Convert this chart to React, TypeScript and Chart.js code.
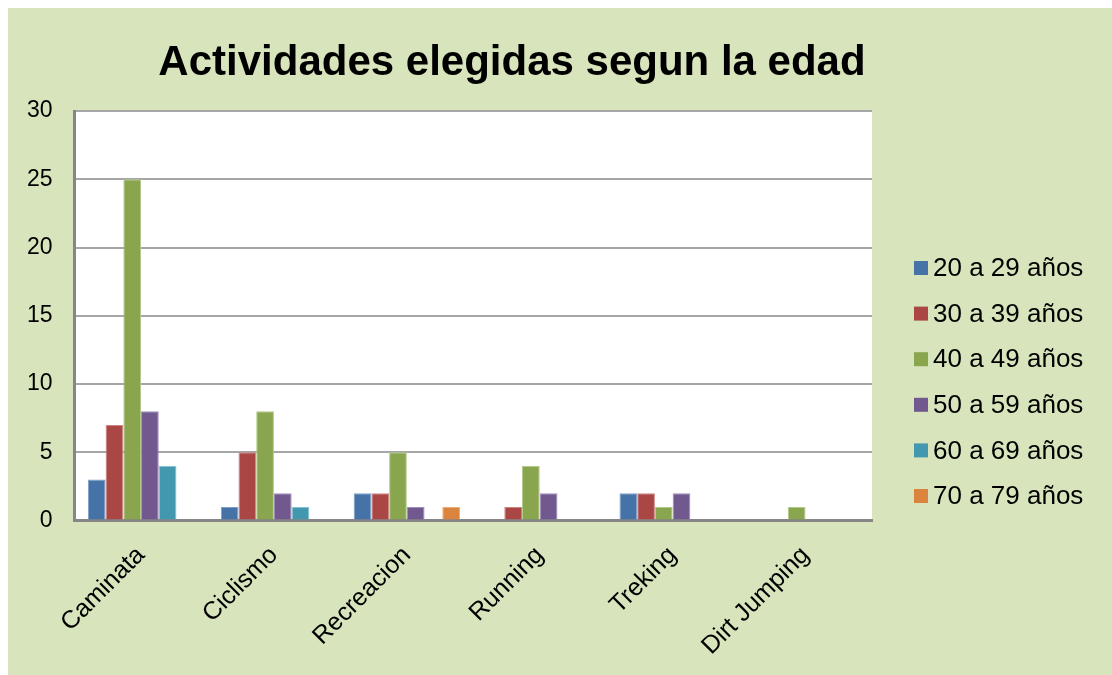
import React, { useEffect, useRef } from 'react';
import { Chart, registerables } from 'chart.js';

Chart.register(...registerables);

const categories = ['Caminata', 'Ciclismo', 'Recreacion', 'Running', 'Treking', 'Dirt Jumping'];
const seriesNames = ['20 a 29 años', '30 a 39 años', '40 a 49 años', '50 a 59 años', '60 a 69 años', '70 a 79 años'];
const s20a29 = [3, 1, 2, 0, 2, 0];
const s30a39 = [7, 5, 2, 1, 2, 0];
const s40a49 = [25, 8, 5, 4, 1, 1];
const s50a59 = [8, 2, 1, 2, 2, 0];
const s60a69 = [4, 1, 0, 0, 0, 0];
const s70a79 = [0, 0, 1, 0, 0, 0];
const seriesValues = [s20a29, s30a39, s40a49, s50a59, s60a69, s70a79];
const seriesColors = ['#4572a7', '#aa4643', '#89a54e', '#71588f', '#4198af', '#db843d'];
const seriesBorders = ['#7d9ec9', '#cc8583', '#b1c98a', '#a08cb8', '#86c2d2', '#eaae7e'];
const yMin = 0;
const yMax = 30;
const yStep = 5;
const titleText = 'Actividades elegidas segun la edad';

const FONT = '"Liberation Sans", Arial, sans-serif';

const bgPlugin = {
  id: 'bgPlugin',
  beforeDraw(chart: any) {
    const { ctx, chartArea } = chart;
    ctx.save();
    ctx.fillStyle = '#ffffff';
    ctx.fillRect(chartArea.left, chartArea.top, chartArea.right - chartArea.left, chartArea.bottom - chartArea.top);
    ctx.restore();
  },
};

const titlePlugin = {
  id: 'titlePlugin',
  afterDraw(chart: any) {
    const { ctx } = chart;
    ctx.save();
    ctx.font = 'bold 42px ' + FONT;
    ctx.fillStyle = '#000';
    ctx.textAlign = 'center';
    ctx.textBaseline = 'alphabetic';
    ctx.fillText(titleText, 504, 67);
    ctx.restore();
  },
};

const legendPlugin = {
  id: 'customLegend',
  afterDraw(chart: any) {
    const { ctx } = chart;
    ctx.save();
    ctx.font = '26px ' + FONT;
    ctx.textBaseline = 'middle';
    ctx.textAlign = 'left';
    chart.data.datasets.forEach((ds: any, i: number) => {
      const cy = 260 + i * 45.6;
      ctx.fillStyle = ds.backgroundColor;
      ctx.fillRect(906, cy - 7, 14, 14);
      ctx.fillStyle = '#000';
      ctx.fillText(ds.label, 925, cy + 1);
    });
    ctx.restore();
  },
};

export default function App() {
  const ref = useRef<HTMLCanvasElement | null>(null);
  useEffect(() => {
    if (!ref.current) return;
    const chart = new Chart(ref.current, {
      type: 'bar',
      data: {
        labels: categories,
        datasets: seriesNames.map((name, i) => ({
          label: name,
          data: seriesValues[i],
          backgroundColor: seriesColors[i],
          borderColor: seriesBorders[i],
          borderWidth: 1,
          categoryPercentage: 0.8,
          barPercentage: 1.0,
        })),
      },
      options: {
        animation: false,
        responsive: false,
        maintainAspectRatio: false,
        layout: { padding: { top: 103, right: 240, bottom: -6, left: -3 } },
        plugins: {
          legend: { display: false },
          title: { display: false },
          tooltip: { enabled: false },
        },
        scales: {
          x: {
            grid: { display: false, drawTicks: false },
            border: { color: '#868686', width: 3 },
            ticks: {
              color: '#000',
              font: { family: FONT, size: 25 },
              minRotation: 45,
              maxRotation: 45,
              padding: 20,
            },
          },
          y: {
            min: yMin,
            max: yMax,
            grid: { color: '#a6a6a6', lineWidth: 2, drawTicks: false },
            border: { color: '#868686', width: 3 },
            ticks: {
              stepSize: yStep,
              color: '#000',
              font: { family: FONT, size: 23 },
              padding: 22,
            },
          },
        },
      },
      plugins: [bgPlugin, titlePlugin, legendPlugin],
    });
    return () => chart.destroy();
  }, []);
  return (
    <div style={{ position: 'absolute', left: 8, top: 8, width: 1104, height: 667, background: '#d8e4bc' }}>
      <canvas ref={ref} width={1104} height={667} style={{ display: 'block' }} />
    </div>
  );
}
